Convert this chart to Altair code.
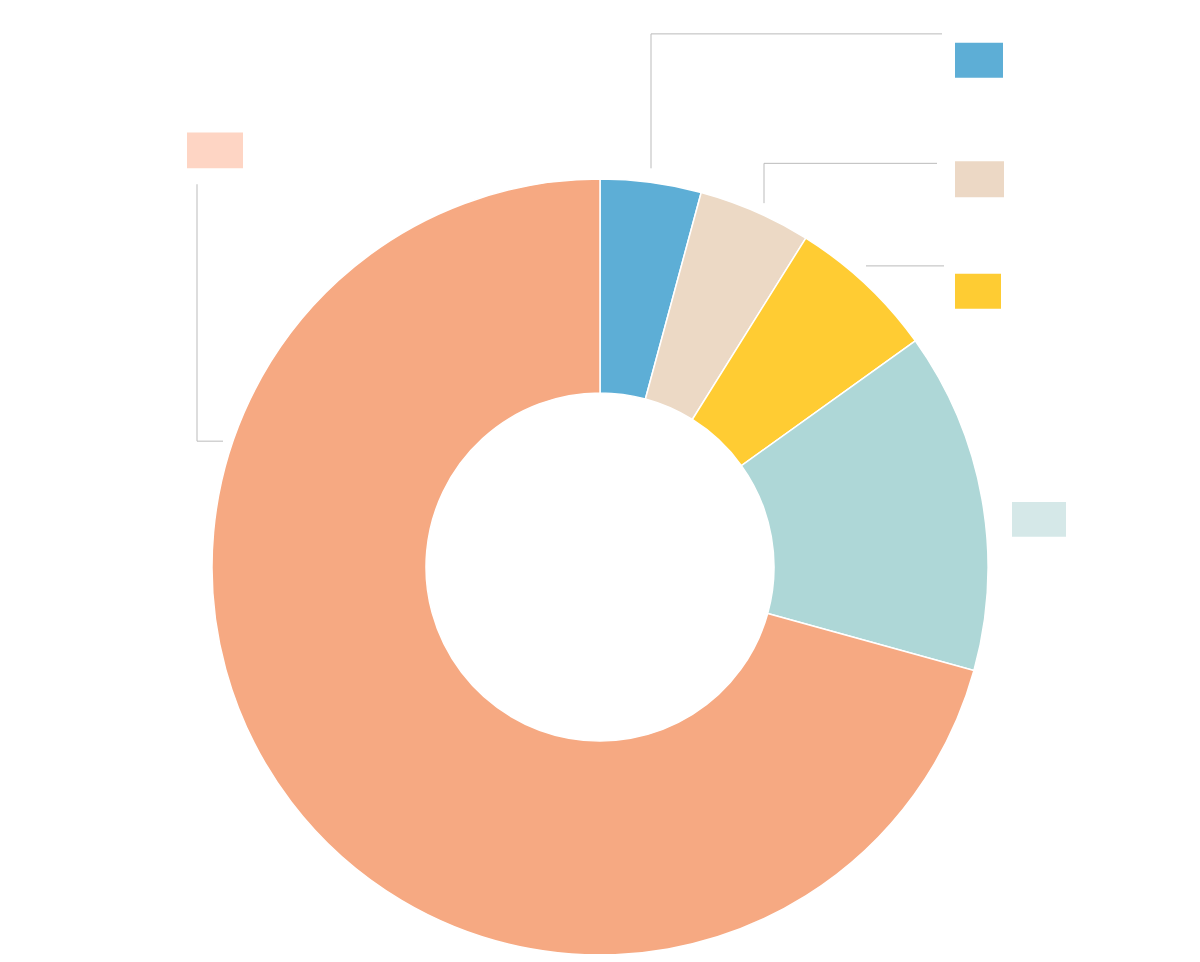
import altair as alt
import pandas as pd

# Donut slices (clockwise from 12 o'clock)
categories = ["Segment A", "Segment B", "Segment C", "Segment D", "Segment E"]
shares = [4.2, 4.7, 6.2, 14.2, 70.7]
slice_colors = ["#5DAED6", "#ECD9C5", "#FFCC33", "#AED7D7", "#F6A982"]

# Label boxes (page pixel coordinates), one per category
box_colors = ["#5DAED6", "#ECD8C5", "#FECC33", "#D5E8E8", "#FED5C4"]
box_x0 = [955, 955, 955, 1012, 187]
box_x1 = [1003, 1004, 1001, 1066, 243]
box_y0 = [42, 161, 274, 503, 132]
box_y1 = [77, 197, 309, 538, 168]

# Leader line segments (page pixel coordinates)
line_x0 = [651, 651, 764, 764, 866, 197, 197]
line_y0 = [168, 33, 203, 163, 266, 184, 442]
line_x1 = [651, 942, 764, 937, 944, 197, 223]
line_y1 = [33, 33, 163, 163, 266, 442, 442]

W, H = 1184, 946

slices = pd.DataFrame({"cat": categories, "share": shares, "order": list(range(len(categories)))})
boxes = pd.DataFrame({"cat": categories, "x0": box_x0, "x1": box_x1, "y0": box_y0, "y1": box_y1})
lines = pd.DataFrame({"x0": line_x0, "y0": line_y0, "x1": line_x1, "y1": line_y1})

xs = alt.Scale(domain=[8, 8 + W], nice=False, zero=False)
ys = alt.Scale(domain=[7, 7 + H], nice=False, zero=False, reverse=True)

donut = alt.Chart(slices).mark_arc(
    outerRadius=388, innerRadius=174, stroke="white", strokeWidth=1.5
).encode(
    theta=alt.Theta("share:Q", stack=True),
    order=alt.Order("order:Q"),
    color=alt.Color("cat:N", scale=alt.Scale(domain=categories, range=slice_colors), legend=None),
    x=alt.value(600 - 8),
    y=alt.value(567 - 8),
)

leaders = alt.Chart(lines).mark_rule(color="#BBBBBB", strokeWidth=1).encode(
    x=alt.X("x0:Q", scale=xs, axis=None),
    y=alt.Y("y0:Q", scale=ys, axis=None),
    x2="x1:Q",
    y2="y1:Q",
)

label_boxes = alt.Chart(boxes).mark_rect().encode(
    x=alt.X("x0:Q", scale=xs, axis=None),
    x2="x1:Q",
    y=alt.Y("y0:Q", scale=ys, axis=None),
    y2="y1:Q",
    color=alt.Color("cat:N", scale=alt.Scale(domain=categories, range=box_colors), legend=None),
)

chart = alt.layer(donut, leaders, label_boxes).resolve_scale(color="independent").properties(
    width=W,
    height=H,
    padding=0,
    autosize=alt.AutoSizeParams(type="fit", contains="padding"),
).configure_view(stroke=None)

chart.save("out.html", embed_options={"renderer": "svg", "actions": False})
